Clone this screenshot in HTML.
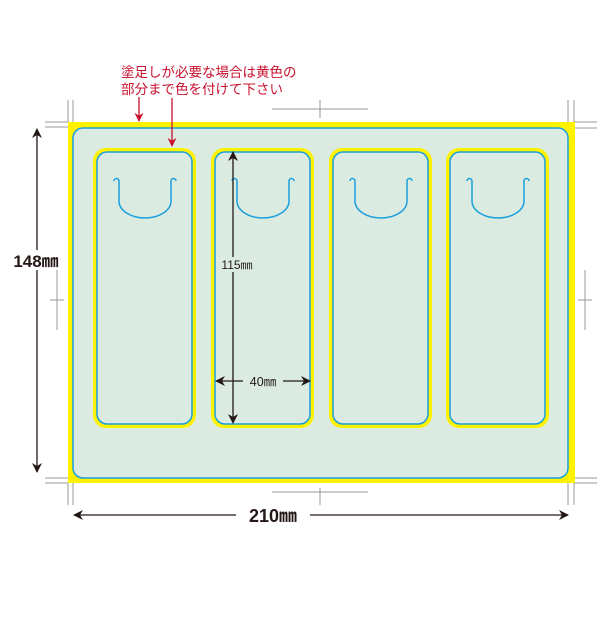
<!DOCTYPE html><html><head><style>body{margin:0;background:#fff}</style></head><body>
<svg width="614" height="613" viewBox="0 0 614 613" xmlns="http://www.w3.org/2000/svg" font-family="Liberation Sans, Noto Sans CJK JP, sans-serif">
<defs>
<marker id="a" viewBox="0 0 10 10" refX="9" refY="5" markerWidth="10" markerHeight="10" markerUnits="userSpaceOnUse" orient="auto-start-reverse"><path d="M0,0 L10,5 L0,10 L3,5z" fill="#231815"/></marker>
<marker id="r" viewBox="0 0 10 10" refX="9" refY="5" markerWidth="9" markerHeight="9" markerUnits="userSpaceOnUse" orient="auto"><path d="M0,0 L10,5 L0,10 L3,5z" fill="#c8102e"/></marker>
<g id="card"><rect x="0" y="0" width="103" height="280" rx="13" fill="#fff200"/><rect x="4" y="4" width="95" height="272" rx="10" fill="#dcebe2" stroke="#1aa0dc" stroke-width="1.5"/><path d="M21,33 a2.5,2.5 0 0 1 5,0 V53 a26,17 0 0 0 52,0 V33 a2.5,2.5 0 0 1 5,0" fill="none" stroke="#1aa0dc" stroke-width="1.5"/></g>
</defs>
<g stroke="#999" stroke-width="1" fill="none">
<path d="M68,100V122M73,100V122M45,122H68M45,127H68"/>
<path d="M568,100V122M574,100V122M574,122H597M574,128H597"/>
<path d="M68,483V505M73,483V505M45,478H68M45,483H68"/>
<path d="M568,483V505M574,483V505M574,478H597M574,483H597"/>
<path d="M320,100V118M272,109H368M320,488V505M272,492H368"/>
<path d="M50,300H64M57,270V330M578,300H592M585,270V330"/>
</g>
<rect x="68" y="122" width="507" height="361" fill="#fff200"/>
<rect x="73" y="128" width="495" height="350" rx="10" fill="#dcebe2" stroke="#1aa0dc" stroke-width="1.5"/>
<use href="#card" x="93" y="148"/>
<use href="#card" x="211" y="148"/>
<use href="#card" x="329" y="148"/>
<use href="#card" x="446" y="148"/>
<g stroke="#231815" stroke-width="1.3" fill="none">
<line x1="37" y1="129" x2="37" y2="472" marker-start="url(#a)" marker-end="url(#a)"/>
<line x1="74" y1="515" x2="568" y2="515" marker-start="url(#a)" marker-end="url(#a)"/>
<line x1="233" y1="152" x2="233" y2="423" marker-start="url(#a)" marker-end="url(#a)"/>
<line x1="216" y1="381" x2="310" y2="381" marker-start="url(#a)" marker-end="url(#a)"/>
</g>
<rect x="8" y="250" width="56" height="20" fill="#fff"/>
<text x="36" y="267" font-size="17" font-weight="bold" text-anchor="middle" fill="#231815">148㎜</text>
<rect x="236" y="504" width="74" height="22" fill="#fff"/>
<text x="273" y="522" font-size="18" font-weight="bold" text-anchor="middle" fill="#231815">210㎜</text>
<rect x="217" y="257" width="40" height="15" fill="#dcebe2"/>
<text x="237" y="269" font-size="12" text-anchor="middle" fill="#231815">115㎜</text>
<rect x="243" y="374" width="40" height="15" fill="#dcebe2"/>
<text x="263" y="386" font-size="12.5" text-anchor="middle" fill="#231815">40㎜</text>
<text x="121" y="77" font-size="13.5" fill="#c8102e">塗足しが必要な場合は黄色の</text>
<text x="121" y="94" font-size="13.5" fill="#c8102e">部分まで色を付けて下さい</text>
<g stroke="#c8102e" stroke-width="1.3"><line x1="139" y1="97" x2="139" y2="121" marker-end="url(#r)"/><line x1="172" y1="98" x2="172" y2="146" marker-end="url(#r)"/></g>
</svg></body></html>
